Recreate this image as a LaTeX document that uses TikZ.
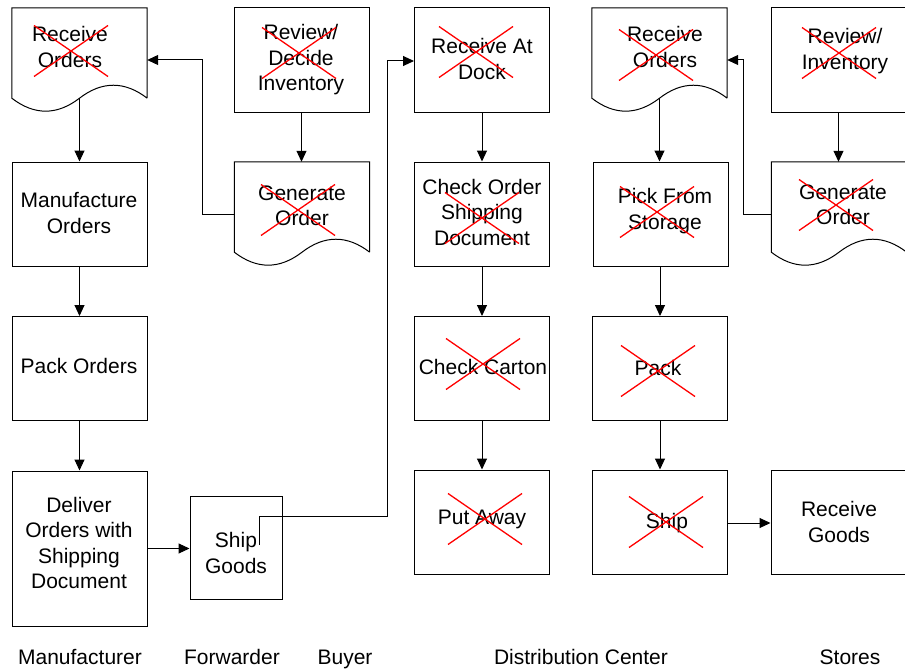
\documentclass[tikz,border=0pt]{standalone}
\usepackage{fontspec}
\setmainfont{Liberation Sans}
\usetikzlibrary{arrows.meta,calc}
\begin{document}
\begin{tikzpicture}[x=1pt,y=-1pt,
  lbl/.style={font=\fontsize{21}{25.5}\selectfont, align=center, inner sep=0pt},
  proc/.style={draw, line width=1pt, minimum width=135pt, minimum height=104pt, inner sep=0pt},
  docbox/.style={minimum width=135pt, minimum height=90pt, inner sep=0pt},
  arr/.style={line width=1pt, -{Triangle[length=11pt,width=10pt]}},
  xm/.style={draw=red, line width=1.3pt},
  xmark/.pic={\draw[xm] (-37,-25.5) -- (37,25.5) (-37,25.5) -- (37,-25.5);}
]
\useasboundingbox (0,0) rectangle (905,669);

% document outline: straight top and sides, wavy bottom (trough left, crest right)
\newcommand{\docoutline}[1]{%
  \draw[line width=1pt] (#1.south east) -- (#1.north east) -- (#1.north west) -- (#1.south west)
    .. controls +(22.5,17.3) and +(-22.5,17.3) .. (#1.south)
    .. controls +(22.5,-17.3) and +(-22.5,-17.3) .. (#1.south east);}

% ---------------- Manufacturer ----------------
\node[docbox] (ro1) at (79.5,53) {};
\docoutline{ro1}
\node[lbl] (ro1t) at (70,47) {Receive\\Orders};
\pic (ro1x) at (71,51) {xmark};

\node[proc] (mo) at (79.5,214) {};
\node[lbl] (mot) at (79,213) {Manufacture\\Orders};

\node[proc] (po) at (79.5,368.5) {};
\node[lbl] (pot) at (79,366) {Pack Orders};

\node[proc, minimum height=155pt] (dv) at (79.5,548.5) {};
\node[lbl] (dvt) at (79,543) {Deliver\\Orders with\\Shipping\\Document};

% ---------------- Forwarder ----------------
\node[proc, minimum width=92pt, minimum height=103pt] (sg) at (236,547.5) {};
\node[lbl] (sgt) at (236,553) {Ship\\Goods};

% ---------------- Buyer ----------------
\node[proc] (rd) at (301.5,60) {};
\node[lbl] (rdt) at (301,60) {Review/\\Decide\\Inventory};
\pic (rdx) at (299,53) {xmark};

\node[docbox] (go1) at (302,207) {};
\docoutline{go1}
\node[lbl] (go1t) at (302,206) {Generate\\Order};
\pic (go1x) at (298,210) {xmark};

% ---------------- Distribution Center ----------------
\node[proc] (dock) at (482,60) {};
\node[lbl] (dockt) at (482,59) {Receive At\\Dock};
\pic (dockx) at (476,52) {xmark};

\node[proc] (cos) at (482,214) {};
\node[lbl] (cost) at (482,212) {Check Order\\Shipping\\Document};
\pic (cosx) at (482,218) {xmark};

\node[proc] (cc) at (482,368.5) {};
\node[lbl] (cct) at (483,367) {Check Carton};
\pic (ccx) at (483,364) {xmark};

\node[proc] (pa) at (482,522) {};
\node[lbl] (pat) at (482,519) {Put Away};
\pic (pax) at (485,519) {xmark};

\node[docbox] (ro4) at (659.5,53) {};
\docoutline{ro4}
\node[lbl] (ro4t) at (665,47) {Receive\\Orders};
\pic (ro4x) at (656,55) {xmark};

\node[proc] (pfs) at (660.5,214) {};
\node[lbl] (pfst) at (665,211) {Pick From\\Storage};
\pic (pfsx) at (657,212) {xmark};

\node[proc] (pk) at (660,368.5) {};
\node[lbl] (pkt) at (658,368) {Pack};
\pic (pkx) at (658,371) {xmark};

\node[proc] (sh) at (660,522) {};
\node[lbl] (sht) at (667,523) {Ship};
\pic (shx) at (666,522) {xmark};

% ---------------- Stores ----------------
\node[proc] (ri) at (838.5,60) {};
\node[lbl] (rit) at (845,51) {Review/\\Inventory};
\pic (rix) at (839,53) {xmark};

\node[docbox] (go5) at (839,207) {};
\docoutline{go5}
\node[lbl] (go5t) at (843,205) {Generate\\Order};
\pic (go5x) at (836,205) {xmark};

\node[proc] (rg) at (838.5,522) {};
\node[lbl] (rgt) at (839,522) {Receive\\Goods};

% ---------------- connectors ----------------
\draw[arr] (ro1.south) -- (mo.north);
\draw[arr] (mo.south) -- (po.north);
\draw[arr] (po.south) -- (dv.north);
\draw[arr] (dv.east) -- (dv.east -| sg.west);

\draw[arr] (rd.south) -- (rd.south |- go1.north);
\coordinate (k1) at (202,214);
\draw[arr] (go1.west |- k1) -- (k1) |- ([yshift=-7pt]ro1.east);

\coordinate (sgout) at (259,545);
\coordinate (k2) at (387,516);
\draw[arr] (sgout) |- (k2) |- ([yshift=-1pt]dock.west);

\draw[arr] (dock.south) -- (cos.north);
\draw[arr] (cos.south) -- (cc.north);
\draw[arr] (cc.south) -- (pa.north);

\draw[arr] (ro4.south) -- (ro4.south |- pfs.north);
\draw[arr] (pfs.south -| pk.north) -- (pk.north);
\draw[arr] (pk.south) -- (sh.north);
\draw[arr] ([yshift=-1pt]sh.east) -- ([yshift=-1pt]rg.west);

\draw[arr] (ri.south) -- (ri.south |- go5.north);
\coordinate (k3) at (743,214);
\draw[arr] (go5.west |- k3) -- (k3) |- ([yshift=-7pt]ro4.east);

% ---------------- lane captions ----------------
\node[lbl, anchor=base] (cap1) at (80,664) {Manufacturer};
\node[lbl, anchor=base] (cap2) at (232,664) {Forwarder};
\node[lbl, anchor=base] (cap3) at (345,664) {Buyer};
\node[lbl, anchor=base] (cap4) at (581,664) {Distribution Center};
\node[lbl, anchor=base] (cap5) at (850,664) {Stores};
\end{tikzpicture}
\end{document}
